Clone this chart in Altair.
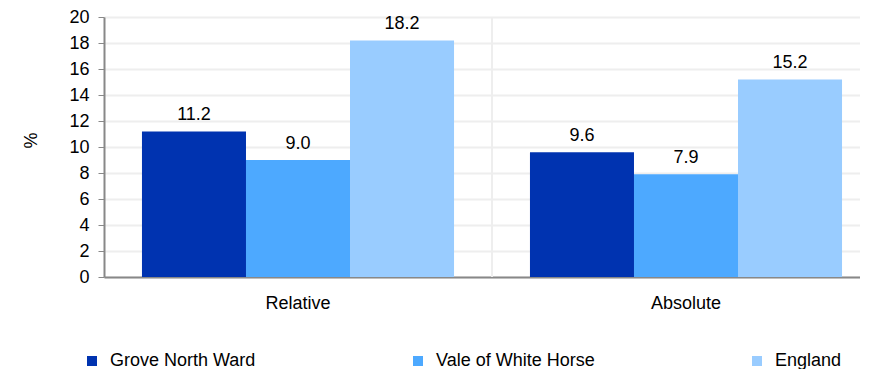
import altair as alt
import pandas as pd

groups = ["Relative", "Absolute"]
series = ["Grove North Ward", "Vale of White Horse", "England"]
grove = [11.2, 9.6]
vale = [9.0, 7.9]
england = [18.2, 15.2]
colors = ["#0033b0", "#4da9ff", "#99ccff"]
y_ticks = list(range(0, 21, 2))

rows = []
for s, vals in zip(series, [grove, vale, england]):
    for g, v in zip(groups, vals):
        rows.append({"group": g, "series": s, "value": v})
df = pd.DataFrame(rows)
sep = pd.DataFrame({"group": [groups[1]]})

W = 756
RANGE_W = 776
H = 260
FONT = "Liberation Sans"
FS = 18
GRID = "#eeeeee"
AXC = "#888888"

xscale = alt.Scale(domain=groups, range=[0, RANGE_W], paddingInner=0, paddingOuter=0)
xaxis = alt.Axis(title=None, ticks=False, labelPadding=17, domainColor=AXC,
                 domainWidth=2, grid=False, labelAngle=0)
yscale = alt.Scale(domain=[0, 20], nice=False)
yaxis = alt.Axis(values=y_ticks, title="%", titleAngle=270, titleX=-73, titleY=123,
                 titleAlign="center", titleBaseline="middle", titleFontWeight="normal",
                 titleFontSize=FS, titleFont=FONT, titleColor="#000000",
                 domainColor=AXC, domainWidth=2, tickColor=AXC, tickSize=6,
                 labelPadding=9, gridColor=GRID, gridWidth=2, grid=True,
                 labelOverlap=False)

x_bar = alt.X("group:N", sort=groups, scale=xscale, axis=xaxis)
xo = alt.XOffset("series:N", sort=series,
                 scale=alt.Scale(domain=series, paddingInner=0, paddingOuter=0.365))
y_bar = alt.Y("value:Q", scale=yscale, axis=yaxis)
color = alt.Color(
    "series:N", sort=series, scale=alt.Scale(domain=series, range=colors),
    legend=alt.Legend(orient="none", legendX=-21, legendY=335, direction="horizontal",
                      title=None, symbolType="square", symbolSize=100,
                      symbolStrokeWidth=0, labelFontSize=FS, labelFont=FONT,
                      labelColor="#000000", labelOffset=9, columnPadding=153,
                      symbolOpacity=1),
)

rule = alt.Chart(sep).mark_rule(color=GRID, strokeWidth=2).encode(
    x=alt.X("group:N", sort=groups, scale=xscale, bandPosition=0, axis=xaxis),
    y=alt.value(0), y2=alt.value(H),
)
bars = alt.Chart(df).mark_bar(opacity=1).encode(x=x_bar, xOffset=xo, y=y_bar, color=color)
labels = alt.Chart(df).mark_text(baseline="bottom", dy=-7, fontSize=FS, font=FONT,
                                 color="#000000").encode(
    x=x_bar,
    xOffset=alt.XOffset("series:N", sort=series),
    y=y_bar,
    text=alt.Text("value:Q", format=".1f"),
)

chart = (
    alt.layer(rule, bars, labels)
    .properties(width=W, height=H, autosize=alt.AutoSizeParams(type="none"),
                padding={"left": 96, "top": 9, "right": 0, "bottom": 92})
    .configure_view(stroke=None)
    .configure_axis(labelFont=FONT, labelFontSize=FS, labelColor="#000000")
)

chart.save("out.html", embed_options={"renderer": "svg", "actions": False})
